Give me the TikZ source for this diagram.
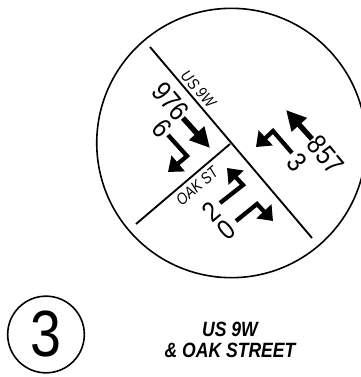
\documentclass[tikz,border=0pt]{standalone}
\usepackage{fontspec}
\setmainfont{Liberation Sans}
\newfontfamily\labelfont[FakeStretch=0.85]{Liberation Sans}
\usetikzlibrary{arrows.meta}
\begin{document}
\begin{tikzpicture}[
    x=0.75pt, y=-0.75pt,
    road/.style={line width=1.4pt},
    move/.style={-{Triangle[length=15pt, width=14.5pt]}, line width=4pt},
    turn/.style={-{Triangle[length=10pt, width=15pt]}, line width=3.2pt},
    ring/.style={circle, draw, line width=1.2pt, inner sep=0pt},
    count/.style={font=\labelfont\fontsize{21}{21}\selectfont, inner sep=0pt},
    street/.style={font=\labelfont\itshape\fontsize{12}{12}\selectfont, inner sep=0pt},
    title/.style={font=\labelfont\bfseries\itshape\fontsize{15.5}{15.8}\selectfont, align=center, inner sep=0pt}
]
    \useasboundingbox (0,0) rectangle (360,377);

    % Intersection
    \node (bigring) [ring, minimum size=202pt] at (231.4,143) {};
    \coordinate (ustop) at (150,47);
    \coordinate (usbottom) at (312,238);
    \coordinate (junction) at (230,144);
    \coordinate (oakend) at (136,224);
    \draw [road] (ustop) -- (usbottom);
    \draw [road] (junction) -- (oakend);

    % Street names
    \node (usname) [street, rotate=-48] at (198.3,89.3) {US 9W};
    \node (oakname) [street, rotate=41] at (197,186) {OAK ST};

    % Southbound
    \node (c976) [count, rotate=-50] at (170.7,101.7) {976};
    \node (c6) [count, rotate=-50] at (161.7,128) {6};
    \coordinate (s976) at (183,118);
    \coordinate (t976) at (210,148);
    \coordinate (s6) at (168,135);
    \coordinate (b6) at (187,156);
    \coordinate (t6) at (168,172);
    \draw [move] (s976) -- (t976);
    \draw [turn] (s6) -- (b6) -- (t6);

    % Northbound
    \node (c857) [count, rotate=-50] at (326,155) {857};
    \node (c3) [count, rotate=-50] at (297,162) {3};
    \coordinate (s857) at (312,139);
    \coordinate (t857) at (286,110);
    \coordinate (s3) at (292,153);
    \coordinate (b3) at (273,131);
    \coordinate (t3) at (256,147);
    \draw [move] (s857) -- (t857);
    \draw [turn] (s3) -- (b3) -- (t3);

    % Oak approach
    \node (c2) [count, rotate=40] at (211.7,212) {2};
    \node (c0) [count, rotate=40] at (226.7,230) {0};
    \coordinate (s2) at (220,203);
    \coordinate (b2) at (243,185);
    \coordinate (t2) at (227,168);
    \coordinate (s0) at (236,221);
    \coordinate (b0) at (257,204);
    \coordinate (t0) at (273,221);
    \draw [turn] (s2) -- (b2) -- (t2);
    \draw [turn] (s0) -- (b0) -- (t0);

    % Site number and name
    \node (sitering) [ring, minimum size=57.5pt, font=\labelfont\fontsize{49}{49}\selectfont] at (46,334.5) {3};
    \node (sitename) [title] at (230,340) {US 9W\\\& OAK STREET};
\end{tikzpicture}
\end{document}
